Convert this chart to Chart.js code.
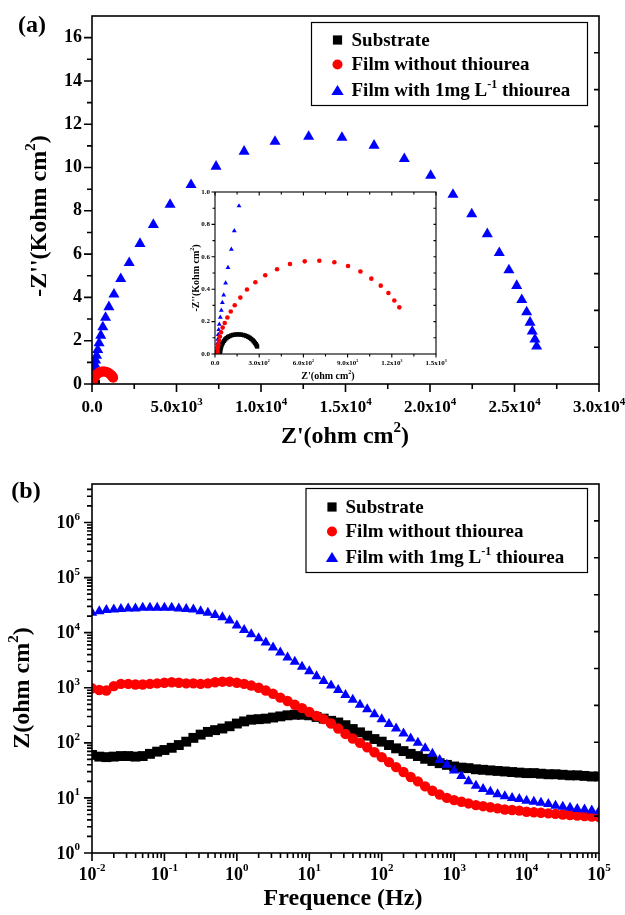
<!DOCTYPE html>
<html lang="en">
<head>
<meta charset="UTF-8">
<title>EIS — Nyquist (a) and Bode (b)</title>
<script src="https://cdn.jsdelivr.net/npm/chart.js@4/dist/chart.umd.min.js"></script>
<style>
  * { margin: 0; padding: 0; }
  body { width: 625px; height: 915px; background: #fff; position: relative; overflow: hidden; }
  canvas { position: absolute; }
  #nyq   { left: 0; top: 0; }
  #inset { left: 170px; top: 180px; }
  #bode  { left: 0; top: 450px; }
</style>
</head>
<body>
<canvas id="nyq" width="625" height="450"></canvas>
<canvas id="inset" width="290" height="210"></canvas>
<canvas id="bode" width="625" height="465"></canvas>
<script>
// ── Data ─────────────────────────────────────────────────────────────────────
const seriesNames = ['Substrate', 'Film without thiourea', 'Film with 1mg L-1 thiourea'];

// (a) Nyquist: Z' in ohm cm2, -Z'' in kohm cm2
const nyqSubRe = [286, 282, 277, 271, 264, 256, 246, 236, 225, 213, 201, 188, 175, 162, 149,
  136, 123, 111, 99, 88, 78, 69, 61, 54, 48, 43, 39, 36, 34];
const nyqSubIm = [0.046, 0.053, 0.061, 0.069, 0.077, 0.085, 0.093, 0.100, 0.106, 0.111, 0.115,
  0.118, 0.120, 0.121, 0.121, 0.120, 0.118, 0.115, 0.110, 0.105, 0.098, 0.090, 0.081, 0.071,
  0.060, 0.048, 0.035, 0.020, 0.005];

const nyqFilmRe = [1251, 1217, 1177, 1125, 1061, 987, 903, 810, 708, 609, 509, 421, 341, 274,
  217, 172, 134, 107, 84, 66, 52, 41, 33, 27, 23, 20, 18, 17];
const nyqFilmIm = [0.288, 0.330, 0.377, 0.422, 0.465, 0.509, 0.543, 0.566, 0.576, 0.572, 0.556,
  0.523, 0.486, 0.443, 0.398, 0.348, 0.301, 0.262, 0.225, 0.191, 0.163, 0.134, 0.108, 0.083,
  0.060, 0.040, 0.022, 0.008];

const nyqThioRe = [26310, 26210, 26050, 25920, 25720, 25430, 25130, 24670, 24100, 23390, 22470,
  21360, 20040, 18480, 16690, 14790, 12820, 10830, 9000, 7340, 5860, 4620, 3630, 2840, 2200,
  1700, 1300, 1000, 800, 640, 520, 420, 340, 270, 215, 163, 131, 111, 88, 72, 59, 50, 43, 36,
  29, 25, 22, 19, 17, 15, 14, 13, 12];
const nyqThioIm = [1.74, 2.06, 2.43, 2.84, 3.32, 3.89, 4.54, 5.26, 6.06, 6.93, 7.85, 8.75, 9.63,
  10.40, 11.02, 11.38, 11.43, 11.20, 10.74, 10.05, 9.20, 8.29, 7.36, 6.48, 5.60, 4.86, 4.14,
  3.56, 3.07, 2.63, 2.24, 1.89, 1.58, 1.31, 1.10, 0.914, 0.760, 0.646, 0.533, 0.438, 0.364,
  0.318, 0.270, 0.227, 0.183, 0.150, 0.120, 0.090, 0.065, 0.045, 0.030, 0.018, 0.008];

// (b) Bode modulus: |Z| in ohm cm2 vs frequency in Hz
const freqHz = [
  0.01, 0.0126, 0.0158, 0.02, 0.0251, 0.0316, 0.0398, 0.0501, 0.0631, 0.0794,
  0.1, 0.126, 0.158, 0.2, 0.251, 0.316, 0.398, 0.501, 0.631, 0.794,
  1, 1.26, 1.58, 2, 2.51, 3.16, 3.98, 5.01, 6.31, 7.94,
  10, 12.6, 15.8, 20, 25.1, 31.6, 39.8, 50.1, 63.1, 79.4,
  100, 126, 158, 200, 251, 316, 398, 501, 631, 794,
  1000, 1260, 1580, 2000, 2510, 3160, 3980, 5010, 6310, 7940,
  10000, 12600, 15800, 20000, 25100, 31600, 39800, 50100, 63100, 79400,
  100000];
const bodeSub = [
  60.3, 56.2, 55.0, 56.2, 57.5, 57.5, 56.2, 57.5, 63.1, 69.2,
  74.1, 81.3, 91.2, 105, 123, 141, 158, 170, 182, 200,
  224, 245, 263, 269, 275, 288, 302, 316, 324, 324,
  316, 295, 275, 251, 234, 209, 178, 155, 135, 117,
  105, 91.2, 79.4, 70.8, 63.1, 57.5, 51.3, 46.8, 42.7, 39.8,
  37.2, 35.5, 34.7, 33.1, 32.4, 31.6, 30.9, 30.2, 29.5, 28.8,
  28.2, 28.2, 27.5, 26.9, 26.9, 26.3, 25.7, 25.7, 25.1, 24.5,
  24.5];
const bodeFilm = [
  977, 912, 891, 1070, 1175, 1175, 1148, 1148, 1175, 1202,
  1230, 1259, 1230, 1202, 1202, 1175, 1202, 1259, 1288, 1288,
  1230, 1175, 1096, 1000, 891, 776, 661, 575, 490, 427,
  363, 309, 269, 224, 182, 145, 120, 100, 83.2, 67.6,
  55.0, 44.7, 36.3, 29.5, 24.0, 20.0, 16.2, 13.5, 11.5, 10.0,
  9.12, 8.51, 7.94, 7.41, 7.08, 6.76, 6.46, 6.17, 6.03, 5.89,
  5.62, 5.50, 5.37, 5.25, 5.13, 5.01, 4.90, 4.79, 4.68, 4.57,
  4.47];
const bodeThio = [
  22900, 24500, 25700, 26300, 26900, 27500, 27500, 28200, 28200, 28200,
  28200, 28200, 27500, 26900, 26300, 24500, 22900, 20900, 19100, 16600,
  13500, 11200, 9330, 7940, 6610, 5370, 4370, 3550, 2950, 2400,
  2000, 1620, 1320, 1100, 912, 741, 603, 490, 407, 331,
  269, 219, 182, 148, 120, 100, 79.4, 63.1, 49.0, 39.8,
  31.6, 25.1, 20.0, 16.6, 14.5, 12.9, 11.7, 10.7, 10.0, 9.55,
  8.91, 8.51, 8.13, 7.76, 7.24, 6.92, 6.61, 6.31, 6.17, 5.89,
  5.75];

// Tick values
const nyqXTicks = [0, 5000, 10000, 15000, 20000, 25000, 30000];
const nyqXMinor = [2500, 7500, 12500, 17500, 22500, 27500];
const nyqYTicks = [0, 2, 4, 6, 8, 10, 12, 14, 16];
const nyqYMinor = [1, 3, 5, 7, 9, 11, 13, 15];
const insetXTicks = [0, 300, 600, 900, 1200, 1500];
const insetXMinor = [150, 450, 750, 1050, 1350];
const insetYTicks = [0, 0.2, 0.4, 0.6, 0.8, 1.0];
const insetYMinor = [0.1, 0.3, 0.5, 0.7, 0.9];
const freqTicks = [1e-2, 1e-1, 1e0, 1e1, 1e2, 1e3, 1e4, 1e5];
const zTicks = [1e0, 1e1, 1e2, 1e3, 1e4, 1e5, 1e6];

// ── Helpers ──────────────────────────────────────────────────────────────────
const SERIF = '"Liberation Serif", "Times New Roman", Times, serif';
const BLACK = '#000000', RED = '#ff0000', BLUE = '#0000ff';

const zip = (xs, ys) => xs.map((x, i) => ({ x, y: ys[i] }));

function supText(ctx, parts, x, y, align, size) {
  const base = `bold ${size}px ${SERIF}`;
  const sup = `bold ${Math.round(size * 0.62)}px ${SERIF}`;
  let w = 0;
  parts.forEach(([t, s]) => { ctx.font = s ? sup : base; w += ctx.measureText(t).width; });
  let cx = align === 'center' ? x - w / 2 : align === 'right' ? x - w : x;
  ctx.textAlign = 'left';
  ctx.textBaseline = 'middle';
  ctx.fillStyle = '#000';
  parts.forEach(([t, s]) => {
    ctx.font = s ? sup : base;
    ctx.fillText(t, cx, s ? y - size * 0.36 : y);
    cx += ctx.measureText(t).width;
  });
}

function rotText(ctx, parts, x, y, size) {
  ctx.save();
  ctx.translate(x, y);
  ctx.rotate(-Math.PI / 2);
  supText(ctx, parts, 0, 0, 'center', size);
  ctx.restore();
}

function sciLabel(v) {
  if (v === 0) return [['0.0', 0]];
  const e = Math.floor(Math.log10(v) + 1e-9);
  return [[(v / Math.pow(10, e)).toFixed(1) + 'x10', 0], [String(e), 1]];
}
const logLabel = v => [['10', 0], [String(Math.round(Math.log10(v))), 1]];

function logMinor(decades) {
  const out = [];
  decades.slice(0, -1).forEach(d => { for (let m = 2; m <= 9; m++) out.push(d * m); });
  return out;
}

function drawAxes(chart, o) {
  const ctx = chart.ctx, a = chart.chartArea, xs = chart.scales.x, ys = chart.scales.y;
  ctx.save();
  ctx.strokeStyle = '#000';
  ctx.lineWidth = o.lw;
  ctx.beginPath();
  const xt = (vals, len) => vals.forEach(v => {
    const p = xs.getPixelForValue(v);
    ctx.moveTo(p, a.bottom); ctx.lineTo(p, a.bottom + len);
    if (o.topTicks) { ctx.moveTo(p, a.top); ctx.lineTo(p, a.top + len); }
  });
  const yt = (vals, len) => vals.forEach(v => {
    const p = ys.getPixelForValue(v);
    ctx.moveTo(a.left, p); ctx.lineTo(a.left - len, p);
  });
  xt(o.xMajor, o.major); xt(o.xMinor, o.minor);
  yt(o.yMajor, o.major); yt(o.yMinor, o.minor);
  for (let k = 1; k < o.rightDiv; k++) {
    const p = a.bottom - k * (a.bottom - a.top) / o.rightDiv;
    ctx.moveTo(a.right, p); ctx.lineTo(a.right - o.minor, p);
  }
  ctx.stroke();
  ctx.strokeRect(a.left, a.top, a.right - a.left, a.bottom - a.top);
  ctx.restore();
}

function marker(ctx, shape, color, x, y, r) {
  ctx.fillStyle = color;
  ctx.beginPath();
  if (shape === 'rect') ctx.rect(x - r, y - r, 2 * r, 2 * r);
  else if (shape === 'circle') ctx.arc(x, y, r, 0, Math.PI * 2);
  else { ctx.moveTo(x, y - r); ctx.lineTo(x + r * 1.1, y + r * 0.8); ctx.lineTo(x - r * 1.1, y + r * 0.8); ctx.closePath(); }
  ctx.fill();
}

function drawLegend(ctx, box, mx, tx, rows) {
  ctx.save();
  ctx.strokeStyle = '#000';
  ctx.lineWidth = 1.2;
  ctx.strokeRect(box[0], box[1], box[2] - box[0], box[3] - box[1]);
  const shapes = [['rect', BLACK, 4.6], ['circle', RED, 5], ['tri', BLUE, 5.6]];
  const labels = [
    [[seriesNames[0], 0]],
    [[seriesNames[1], 0]],
    [['Film with 1mg L', 0], ['-1', 1], [' thiourea', 0]]
  ];
  rows.forEach((y, i) => {
    marker(ctx, shapes[i][0], shapes[i][1], mx, y, shapes[i][2]);
    supText(ctx, labels[i], tx, y + 1, 'left', 19);
  });
  ctx.restore();
}

const fixedScale = (w, h) => ({
  ticks: { display: false }, grid: { display: false }, border: { display: false },
  afterFit: s => { if (w !== null) s.width = w; if (h !== null) s.height = h; }
});

const baseOpts = {
  responsive: false, animation: false, events: [],
  plugins: { legend: { display: false }, tooltip: { enabled: false } }
};

// ── (a) Nyquist main ─────────────────────────────────────────────────────────
new Chart(document.getElementById('nyq'), {
  type: 'scatter',
  data: {
    datasets: [
      { data: zip(nyqFilmRe, nyqFilmIm), pointStyle: 'circle', pointRadius: 5, order: 0,
        pointBackgroundColor: RED, pointBorderWidth: 0 },
      { data: zip(nyqSubRe, nyqSubIm), pointStyle: 'rect', pointRadius: 4, order: 1,
        pointBackgroundColor: BLACK, pointBorderWidth: 0 },
      { data: zip(nyqThioRe, nyqThioIm), pointStyle: 'triangle', pointRadius: 6.4, order: 2,
        pointBackgroundColor: BLUE, pointBorderWidth: 0 }
    ]
  },
  options: {
    ...baseOpts,
    layout: { padding: { top: 16, right: 26, left: 0, bottom: 0 } },
    scales: {
      x: { type: 'linear', min: 0, max: 30000, ...fixedScale(null, 66) },
      y: { type: 'linear', min: 0, max: 17, ...fixedScale(92, null) }
    }
  },
  plugins: [{
    id: 'nyqDecor',
    afterDraw(chart) {
      const ctx = chart.ctx;
      drawAxes(chart, { xMajor: nyqXTicks, xMinor: nyqXMinor, yMajor: nyqYTicks, yMinor: nyqYMinor,
        major: 8, minor: 5, lw: 1.6, rightDiv: 10 });
      nyqXTicks.forEach(v => supText(ctx, sciLabel(v), chart.scales.x.getPixelForValue(v), 408, 'center', 17));
      nyqYTicks.forEach(v => supText(ctx, [[String(v), 0]], 82, chart.scales.y.getPixelForValue(v), 'right', 18));
      supText(ctx, [["Z'(ohm cm", 0], ['2', 1], [')', 0]], 345, 437, 'center', 24);
      rotText(ctx, [["-Z''(Kohm cm", 0], ['2', 1], [')', 0]], 40, 216, 24);
      supText(ctx, [['(a)', 0]], 32, 26, 'center', 24);
      drawLegend(ctx, [311.5, 22.5, 587.5, 105.5], 337.5, 351.5, [40, 64.5, 90.5]);
    }
  }]
});

// ── (a) inset ────────────────────────────────────────────────────────────────
new Chart(document.getElementById('inset'), {
  type: 'scatter',
  data: {
    datasets: [
      { data: zip(nyqFilmRe, nyqFilmIm), pointStyle: 'circle', pointRadius: 2.3, order: 0,
        pointBackgroundColor: RED, pointBorderWidth: 0 },
      { data: zip(nyqSubRe, nyqSubIm), pointStyle: 'rect', pointRadius: 3, order: 1,
        pointBackgroundColor: BLACK, pointBorderWidth: 0 },
      { data: zip(nyqThioRe, nyqThioIm), pointStyle: 'triangle', pointRadius: 2.8, order: 2,
        pointBackgroundColor: BLUE, pointBorderWidth: 0 }
    ]
  },
  options: {
    ...baseOpts,
    layout: { padding: { top: 12, right: 24, left: 0, bottom: 0 } },
    scales: {
      x: { type: 'linear', min: 0, max: 1500, ...fixedScale(null, 36) },
      y: { type: 'linear', min: 0, max: 1.0, ...fixedScale(45, null) }
    }
  },
  plugins: [{
    id: 'insetDecor',
    afterDraw(chart) {
      const ctx = chart.ctx;
      drawAxes(chart, { xMajor: insetXTicks, xMinor: insetXMinor, yMajor: insetYTicks, yMinor: insetYMinor,
        major: 3.5, minor: 2.5, lw: 1.1, rightDiv: 10, topTicks: true });
      insetXTicks.forEach(v => supText(ctx, sciLabel(v), chart.scales.x.getPixelForValue(v), 183, 'center', 7));
      insetYTicks.forEach(v => supText(ctx, [[v.toFixed(1), 0]], 40, chart.scales.y.getPixelForValue(v), 'right', 7));
      supText(ctx, [["Z'(ohm cm", 0], ['2', 1], [')', 0]], 158, 196, 'center', 10);
      rotText(ctx, [["-Z''(Kohm cm", 0], ['2', 1], [')', 0]], 26, 98, 10);
    }
  }]
});

// ── (b) Bode ─────────────────────────────────────────────────────────────────
new Chart(document.getElementById('bode'), {
  type: 'scatter',
  data: {
    datasets: [
      { data: zip(freqHz, bodeThio), pointStyle: 'triangle', pointRadius: 6, order: 0,
        pointBackgroundColor: BLUE, pointBorderWidth: 0 },
      { data: zip(freqHz, bodeFilm), pointStyle: 'circle', pointRadius: 5.2, order: 1,
        pointBackgroundColor: RED, pointBorderWidth: 0 },
      { data: zip(freqHz, bodeSub), pointStyle: 'rect', pointRadius: 7, order: 2,
        pointBackgroundColor: BLACK, pointBorderWidth: 0 }
    ]
  },
  options: {
    ...baseOpts,
    layout: { padding: { top: 34, right: 26, left: 0, bottom: 0 } },
    scales: {
      x: { type: 'logarithmic', min: 0.01, max: 1e5, ...fixedScale(null, 62) },
      y: { type: 'logarithmic', min: 1, max: 5e6, ...fixedScale(92, null) }
    }
  },
  plugins: [{
    id: 'bodeDecor',
    afterDraw(chart) {
      const ctx = chart.ctx;
      const yMinor = logMinor(zTicks).concat([2e6, 3e6, 4e6]);
      drawAxes(chart, { xMajor: freqTicks, xMinor: logMinor(freqTicks), yMajor: zTicks, yMinor,
        major: 8, minor: 5, lw: 1.6, rightDiv: 10 });
      freqTicks.forEach(v => supText(ctx, logLabel(v), chart.scales.x.getPixelForValue(v), 425, 'center', 18));
      zTicks.forEach(v => supText(ctx, logLabel(v), 80, chart.scales.y.getPixelForValue(v) + 1, 'right', 18));
      supText(ctx, [['Frequence (Hz)', 0]], 343, 449, 'center', 24);
      rotText(ctx, [['Z(ohm cm', 0], ['2', 1], [')', 0]], 23, 238, 24);
      supText(ctx, [['(b)', 0]], 26, 42, 'center', 24);
      drawLegend(ctx, [306, 38.5, 587.5, 122.5], 332, 345.5, [57, 81.5, 107.5]);
    }
  }]
});
</script>
</body>
</html>
